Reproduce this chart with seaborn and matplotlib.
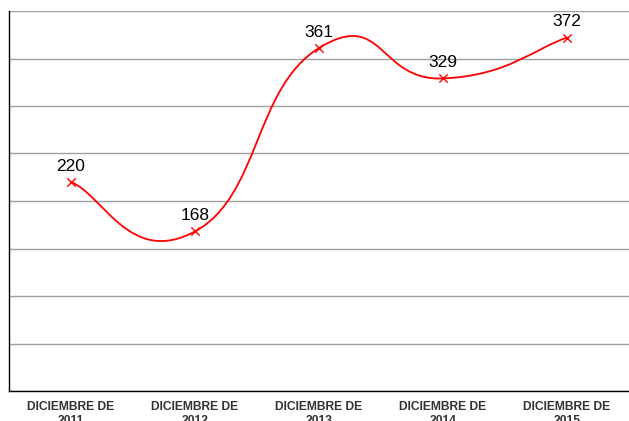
import numpy as np
import pandas as pd
import seaborn as sns
from matplotlib import pyplot as plt
from matplotlib.path import Path
from matplotlib.patches import PathPatch

categorias = ["DICIEMBRE DE\n2011", "DICIEMBRE DE\n2012", "DICIEMBRE DE\n2013",
              "DICIEMBRE DE\n2014", "DICIEMBRE DE\n2015"]
valores = [220, 168, 361, 329, 372]

sns.set_style("white")
plt.rcParams['font.family'] = ['Liberation Sans', 'DejaVu Sans']

fig = plt.figure(figsize=(6.29, 4.21), dpi=100)
ax = fig.add_axes([9 / 629, 30 / 421, 620 / 629, 380 / 421])

df = pd.DataFrame({"pos": range(len(valores)), "valor": valores})

# curva suavizada (bezier tipo catmull-rom, como la linea suavizada de excel)
pts = df[["pos", "valor"]].to_numpy(dtype=float)
ext = np.vstack([pts[0], pts, pts[-1]])
verts = [tuple(pts[0])]
codes = [Path.MOVETO]
k = 1 / 3.8
for i in range(len(pts) - 1):
    p0, p1, p2, p3 = ext[i], ext[i + 1], ext[i + 2], ext[i + 3]
    c1 = p1 + (p2 - p0) * k
    c2 = p2 - (p3 - p1) * k
    verts += [tuple(c1), tuple(c2), tuple(p2)]
    codes += [Path.CURVE4] * 3
ax.add_patch(PathPatch(Path(verts, codes), fill=False, edgecolor="#ff0000", lw=1.3, zorder=3))

sns.scatterplot(data=df, x="pos", y="valor", marker="x", color="#ff0000", s=36,
                linewidth=1.0, ax=ax, zorder=4)

for x, v in zip(df.pos, df.valor):
    ax.annotate(str(v), (x, v), xytext=(0, 6), textcoords="offset points",
                ha="center", va="bottom", fontsize=12.5, color="black")

ax.set_xlim(-0.5, 4.5)
ax.set_ylim(0, 400)
ax.set_yticks(range(0, 401, 50))
ax.set_yticklabels([])
ax.yaxis.grid(True, color="#a0a0a0", lw=1)
ax.set_xticks(df.pos)
ax.set_xticklabels(categorias, fontsize=8.7, fontweight="bold", color="#333333", linespacing=1.2)
ax.tick_params(axis="both", length=0, pad=7)
ax.set_xlabel("")
ax.set_ylabel("")
for s in ["top", "right"]:
    ax.spines[s].set_visible(False)
ax.spines["left"].set_color("black")
ax.spines["bottom"].set_color("black")
ax.spines["left"].set_linewidth(1)
ax.spines["bottom"].set_linewidth(1)

fig.savefig("out.png", dpi=100)
